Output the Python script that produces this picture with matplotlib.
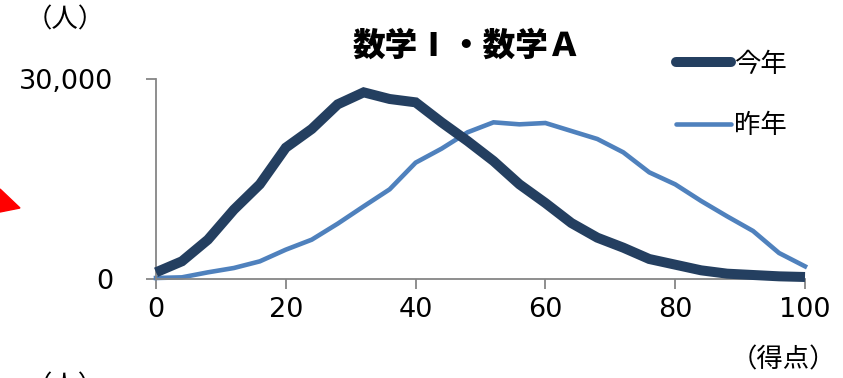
import matplotlib
matplotlib.use('Agg')
import matplotlib.pyplot as plt
from matplotlib.patches import Polygon
from matplotlib.ticker import FuncFormatter

plt.rcParams['font.family'] = ['Noto Sans CJK JP', 'DejaVu Sans']

# --- データ（得点分布：4点刻み） ---
scores = [0, 4, 8, 12, 16, 20, 24, 28, 32, 36, 40, 44, 48, 52,
          56, 60, 64, 68, 72, 76, 80, 84, 88, 92, 96, 100]
this_year = [1000, 2660, 5900, 10400, 14200, 19700, 22500, 26200, 28000, 27000,
             26500, 23500, 20700, 17700, 14200, 11400, 8400, 6200, 4700, 3000,
             2150, 1300, 800, 600, 400, 300]
last_year = [150, 250, 1000, 1650, 2650, 4400, 5900, 8300, 10900, 13450,
             17450, 19550, 22000, 23500, 23200, 23400, 22200, 21000, 19000, 16000,
             14200, 11700, 9400, 7200, 3900, 1900]
x_ticks = [0, 20, 40, 60, 80, 100]
y_ticks = [0, 30000]

W, H = 843, 378
fig = plt.figure(figsize=(W / 100, H / 100), dpi=100)
ax = fig.add_axes([156 / W, 1 - 279 / H, (805 - 156) / W, 200 / H])

ax.plot(scores, this_year, color='#243F60', lw=7.2, label='今年',
        solid_capstyle='butt', solid_joinstyle='miter', clip_on=False, zorder=3)
ax.plot(scores, last_year, color='#4F81BD', lw=3.3, label='昨年',
        solid_joinstyle='miter', clip_on=False, zorder=2)

ax.set_xlim(0, 100)
ax.set_ylim(0, 30000)
ax.set_xticks(x_ticks)
ax.set_yticks(y_ticks)
ax.yaxis.set_major_formatter(FuncFormatter(lambda v, p: f'{int(v):,}'))
for lbl in ax.get_xticklabels() + ax.get_yticklabels():
    lbl.set_family('DejaVu Sans')

for s in ['top', 'right']:
    ax.spines[s].set_visible(False)
for s in ['left', 'bottom']:
    ax.spines[s].set_color('#868686')
    ax.spines[s].set_linewidth(1.3)
ax.tick_params(axis='both', color='#868686', width=1.3, length=7,
               labelsize=19.5)
ax.tick_params(axis='y', pad=24)
ax.tick_params(axis='x', pad=6)

ax.set_title('数学Ⅰ・数学Ａ', fontsize=23.5, fontweight='heavy', pad=17,
             x=(467 - 156) / (805 - 156))

leg = ax.legend(loc='upper left', bbox_to_anchor=(665 / W, 1 - 40 / H),
                bbox_transform=fig.transFigure, frameon=False, fontsize=19,
                handlelength=2.1, handletextpad=0.1, labelspacing=1.3,
                borderaxespad=0)
for h in leg.get_lines():
    h.set_solid_capstyle('round')

# 単位ラベル
fig.text(65 / W, 1 - 20 / H, '（人）', fontsize=19, ha='center', va='center')
fig.text(783 / W, 1 - 360 / H, '（得点）', fontsize=19, ha='center', va='center')
fig.text(65 / W, 1 - 387 / H, '（人）', fontsize=19, ha='center', va='center')

# 左端の赤い図形（切れた矢印）
tri = Polygon([[0 / W, 1 - 189 / H], [20 / W, 1 - 208 / H], [0 / W, 1 - 212 / H]],
              closed=True, transform=fig.transFigure, color='red')
fig.patches.append(tri)

fig.savefig('out.png', dpi=100)
